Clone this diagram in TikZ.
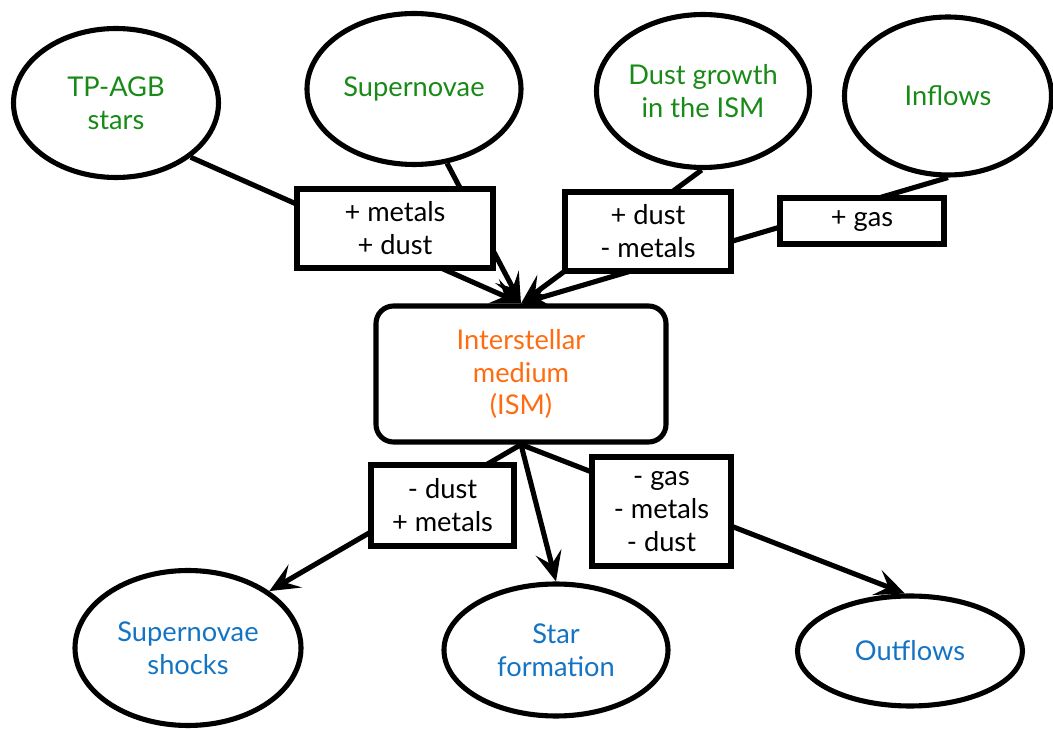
\documentclass[tikz,border=0pt]{standalone}
\usepackage{fontspec}
\setmainfont{Lato}
\usetikzlibrary{shapes.geometric,arrows.meta}
\definecolor{srcgreen}{RGB}{24,138,24}
\definecolor{ismorange}{RGB}{255,108,16}
\definecolor{sinkblue}{RGB}{20,116,196}
\tikzset{
    proc/.style={draw,ellipse,line width=2.9pt,inner sep=0pt,align=center},
    flux/.style={draw,fill=white,line width=2.9pt,inner sep=0pt,align=center},
    flow/.style={line width=2.9pt,-{Stealth[length=17pt,width=15pt,inset=7pt]}},
}
\begin{document}
\fontsize{15.5}{18.7}\selectfont
\begin{tikzpicture}
        \useasboundingbox (0,0) rectangle (21.06,14.6);
        \node[proc,text=srcgreen,minimum width=4.1cm,minimum height=2.98cm] (tpagb) at (2.32,12.54){TP-AGB\\stars};
        \node[proc,text=srcgreen,minimum width=4.28cm,minimum height=3.02cm] (snovae) at (8.28,12.82){Supernovae};
        \node[proc,text=srcgreen,minimum width=4.26cm,minimum height=3.06cm] (dustgr) at (14.06,12.78){Dust growth\\in the ISM};
        \node[proc,text=srcgreen,minimum width=4.14cm,minimum height=3.16cm] (inflows) at (18.96,12.68){Inflows};
        \node[draw,rounded corners=0.35cm,line width=2.9pt,align=center,text=ismorange,minimum width=5.8cm,minimum height=2.72cm] (ism) at (10.42,7.12){Interstellar\\medium\\(ISM)};
        \node[proc,text=sinkblue,minimum width=4.52cm,minimum height=3.1cm] (snshock) at (3.76,1.64){Supernovae\\shocks};
        \node[proc,text=sinkblue,minimum width=4.48cm,minimum height=2.64cm] (starf) at (11.12,1.6){Star\\formation};
        \node[proc,text=sinkblue,minimum width=4.5cm,minimum height=2.2cm] (outflows) at (18.2,1.58){Outflows};

        \draw[flow] (tpagb.-36) -- (ism.north);
        \draw[flow] (snovae.-66) -- (ism.north);
        \draw[flow] (dustgr.-91) -- (ism.north);
        \draw[flow] (inflows.-90) -- (ism.north);
        \draw[flow] (ism.south) -- (snshock.35);
        \draw[flow] (ism.south) -- (starf.north);
        \draw[flow] (ism.south) -- (outflows.95);

        \node[flux,minimum width=3.92cm,minimum height=1.58cm] (fxa) at (7.9,10.03){+ metals\\+ dust};
        \node[flux,minimum width=3.32cm,minimum height=1.58cm] (fxb) at (12.96,9.97){+ dust\\- metals};
        \node[flux,minimum width=3.28cm,minimum height=0.92cm] (fxc) at (17.24,10.18){+ gas};
        \node[flux,minimum width=2.86cm,minimum height=1.62cm] (fxd) at (8.85,4.49){- dust\\+ metals};
        \node[flux,minimum width=2.78cm,minimum height=2.18cm] (fxe) at (13.23,4.37){- gas\\- metals\\- dust};
    \end{tikzpicture}
\end{document}
